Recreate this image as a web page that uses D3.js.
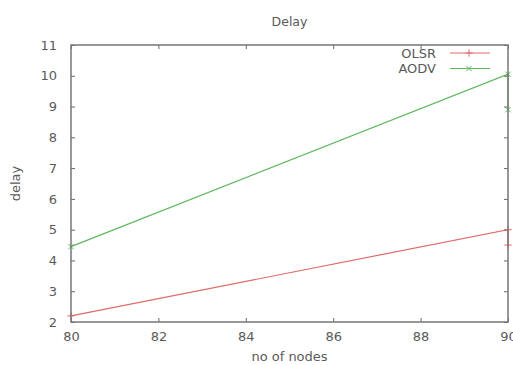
<!DOCTYPE html>
<html>
<head>
<meta charset="utf-8">
<script src="https://cdn.jsdelivr.net/npm/d3@7"></script>
<style>
  body { margin: 0; background: #fff; }
  text { font-family: "DejaVu Sans", sans-serif; fill: #5a5a5a; }
</style>
</head>
<body>
<svg id="chart" width="513" height="365"></svg>
<script>
const nodes = [80, 90, 90];
const olsr = [2.2, 5.0, 4.5];
const aodv = [4.45, 10.05, 8.9];
const xTicks = [80, 82, 84, 86, 88, 90];
const yTicks = [2, 3, 4, 5, 6, 7, 8, 9, 10, 11];

const series = [
    { name: "OLSR", values: olsr, color: "#df6a6a", symbol: d3.symbolPlus },
    { name: "AODV", values: aodv, color: "#5cb85c", symbol: d3.symbolTimes }
];

const svg = d3.select("#chart");
const margin = { top: 45, right: 5, bottom: 43, left: 71 };
const width = 513 - margin.left - margin.right;
const height = 365 - margin.top - margin.bottom;

const x = d3.scaleLinear().domain([80, 90]).range([0, width]);
const y = d3.scaleLinear().domain([2, 11]).range([height, 0]);

const g = svg.append("g").attr("transform", `translate(${margin.left},${margin.top})`);

// ticks on all sides, gnuplot style (inward)
function styleAxis(sel) {
    sel.select(".domain").remove();
    sel.selectAll(".tick line").attr("stroke", "#666");
    sel.selectAll(".tick text").style("font-size", "13px").attr("fill", "#5a5a5a");
}

g.append("g").attr("transform", `translate(0,${height})`)
    .call(d3.axisBottom(x).tickValues(xTicks).tickSize(-4).tickPadding(10))
    .call(styleAxis);
g.append("g")
    .call(d3.axisTop(x).tickValues(xTicks).tickSize(-4).tickFormat(""))
    .call(styleAxis);
g.append("g")
    .call(d3.axisLeft(y).tickValues(yTicks).tickSize(-4).tickPadding(14))
    .call(styleAxis);
g.append("g").attr("transform", `translate(${width},0)`)
    .call(d3.axisRight(y).tickValues(yTicks).tickSize(-4).tickFormat(""))
    .call(styleAxis);

const line = d3.line().x((d, i) => x(nodes[i])).y(d => y(d));

series.forEach(s => {
    g.append("path")
        .datum(s.values)
        .attr("fill", "none")
        .attr("stroke", s.color)
        .attr("stroke-width", 1.2)
        .attr("d", line);
    g.selectAll(null)
        .data(s.values)
        .enter().append("path")
        .attr("transform", (d, i) => `translate(${x(nodes[i])},${y(d)})`)
        .attr("d", d3.symbol().type(s.symbol).size(20))
        .attr("fill", "none")
        .attr("stroke", s.color)
        .attr("stroke-width", 1);
});

g.append("rect")
    .attr("width", width).attr("height", height)
    .attr("fill", "none").attr("stroke", "#777").attr("stroke-width", 1.5);

// legend
const legend = g.append("g").attr("transform", `translate(${width - 72},8)`);
series.forEach((s, i) => {
    const row = legend.append("g").attr("transform", `translate(0,${i * 15.5})`);
    row.append("text").attr("x", 0).attr("y", 4.5)
        .attr("text-anchor", "end").style("font-size", "13px").text(s.name);
    row.append("line").attr("x1", 14).attr("x2", 54)
        .attr("stroke", s.color).attr("stroke-width", 1.2);
    row.append("path").attr("transform", "translate(33,0)")
        .attr("d", d3.symbol().type(s.symbol).size(20))
        .attr("fill", "none").attr("stroke", s.color);
});

svg.append("text")
    .attr("x", margin.left + width / 2).attr("y", 26)
    .attr("text-anchor", "middle").style("font-size", "12.5px").text("Delay");

svg.append("text")
    .attr("x", margin.left + width / 2).attr("y", 361)
    .attr("text-anchor", "middle").style("font-size", "13px").text("no of nodes");

svg.append("text")
    .attr("transform", `translate(20,${margin.top + height / 2}) rotate(-90)`)
    .attr("text-anchor", "middle").style("font-size", "13px").text("delay");
</script>
</body>
</html>
